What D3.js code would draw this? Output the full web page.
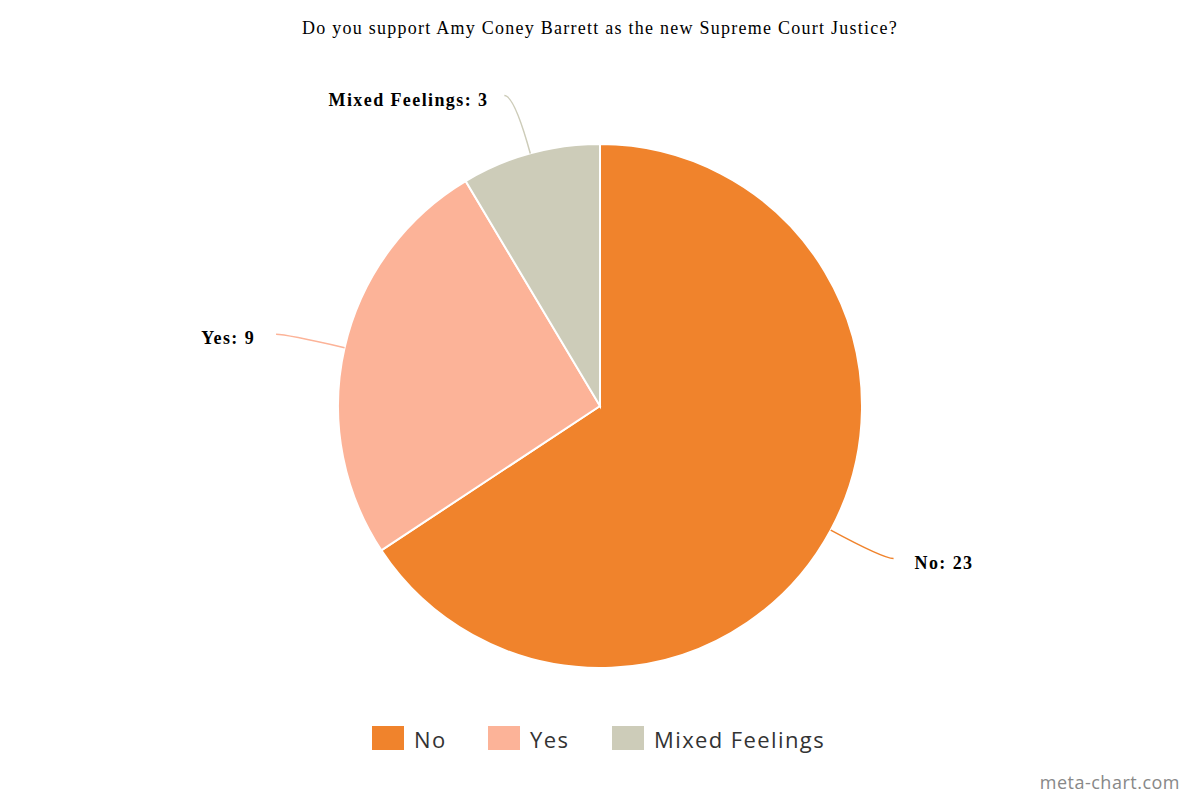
<!DOCTYPE html>
<html>
<head>
<meta charset="utf-8">
<script src="https://cdn.jsdelivr.net/npm/d3@7"></script>
<style>
  body { margin: 0; background: #fff; }
  svg { display: block; }
</style>
</head>
<body>
<svg id="chart" width="1200" height="800"></svg>
<script>
const width = 1200, height = 800;

const title = 'Do you support Amy Coney Barrett as the new Supreme Court Justice?';
const categories = ['No', 'Yes', 'Mixed Feelings'];
const values = [23, 9, 3];
const colors = ['#f0832c', '#fcb398', '#cdccb9'];

const data = categories.map((c, i) => ({label: c, value: values[i], color: colors[i]}));

const cx = 600, cy = 406, radius = 262;

let svg = d3.select('#chart');

// title
svg.append('text')
  .attr('x', width / 2)
  .attr('y', 34)
  .attr('text-anchor', 'middle')
  .style('font-family', '"Liberation Serif", serif')
  .style('font-size', '18px')
  .style('letter-spacing', '1.25px')
  .style('fill', '#000')
  .text(title);

let pie = d3.pie()
  .value(d => d.value)
  .sort(null);

let arc = d3.arc()
  .innerRadius(0)
  .outerRadius(radius);

let arcs = pie(data);

let g = svg.append('g')
  .attr('transform', 'translate(' + cx + ',' + cy + ')');

g.selectAll('path.slice')
  .data(arcs)
  .enter().append('path')
  .attr('class', 'slice')
  .attr('d', arc)
  .attr('fill', d => d.data.color)
  .attr('stroke', '#fff')
  .attr('stroke-width', 2);

// leader lines + labels
function polar(r, a) {
  return [Math.sin(a) * r, -Math.cos(a) * r];
}

arcs.forEach(d => {
  let mid = (d.startAngle + d.endAngle) / 2;
  let p0 = polar(radius, mid);
  let p1 = polar(radius + 60, mid);
  let side = p1[0] >= 0 ? 1 : -1;
  let p2 = [p1[0] + side * 10, p1[1]];
  // upper labels sit a little closer to the line end
  let gap = Math.abs(p1[1]) > radius ? 16 : 21;
  g.append('path')
    .attr('d', 'M' + p0 + 'Q' + p1 + ' ' + p2)
    .attr('fill', 'none')
    .attr('stroke', d.data.color)
    .attr('stroke-width', 1.5);
  g.append('text')
    .attr('x', p2[0] + side * gap)
    .attr('y', p2[1] + 10)
    .attr('text-anchor', side > 0 ? 'start' : 'end')
    .style('font-family', '"Liberation Serif", serif')
    .style('font-weight', 'bold')
    .style('font-size', '18px')
    .style('letter-spacing', '1.4px')
    .style('fill', '#000')
    .text(d.data.label + ': ' + d.data.value);
});

// legend
const legendX = [372, 488, 612];
let legend = svg.append('g')
  .attr('class', 'legend');
data.forEach((d, i) => {
  legend.append('rect')
    .attr('x', legendX[i])
    .attr('y', 726)
    .attr('width', 32)
    .attr('height', 24)
    .attr('fill', d.color);
  legend.append('text')
    .attr('x', legendX[i] + 42)
    .attr('y', 748)
    .style('font-family', '"Open Sans", sans-serif')
    .style('font-size', '22px')
    .style('letter-spacing', '1.4px')
    .style('fill', '#333')
    .text(d.label);
});

// watermark
svg.append('text')
  .attr('x', 1180)
  .attr('y', 789)
  .attr('text-anchor', 'end')
  .style('font-family', '"Open Sans", sans-serif')
  .style('font-size', '18px')
  .style('letter-spacing', '0.5px')
  .style('fill', '#888')
  .text('meta-chart.com');
</script>
</body>
</html>
